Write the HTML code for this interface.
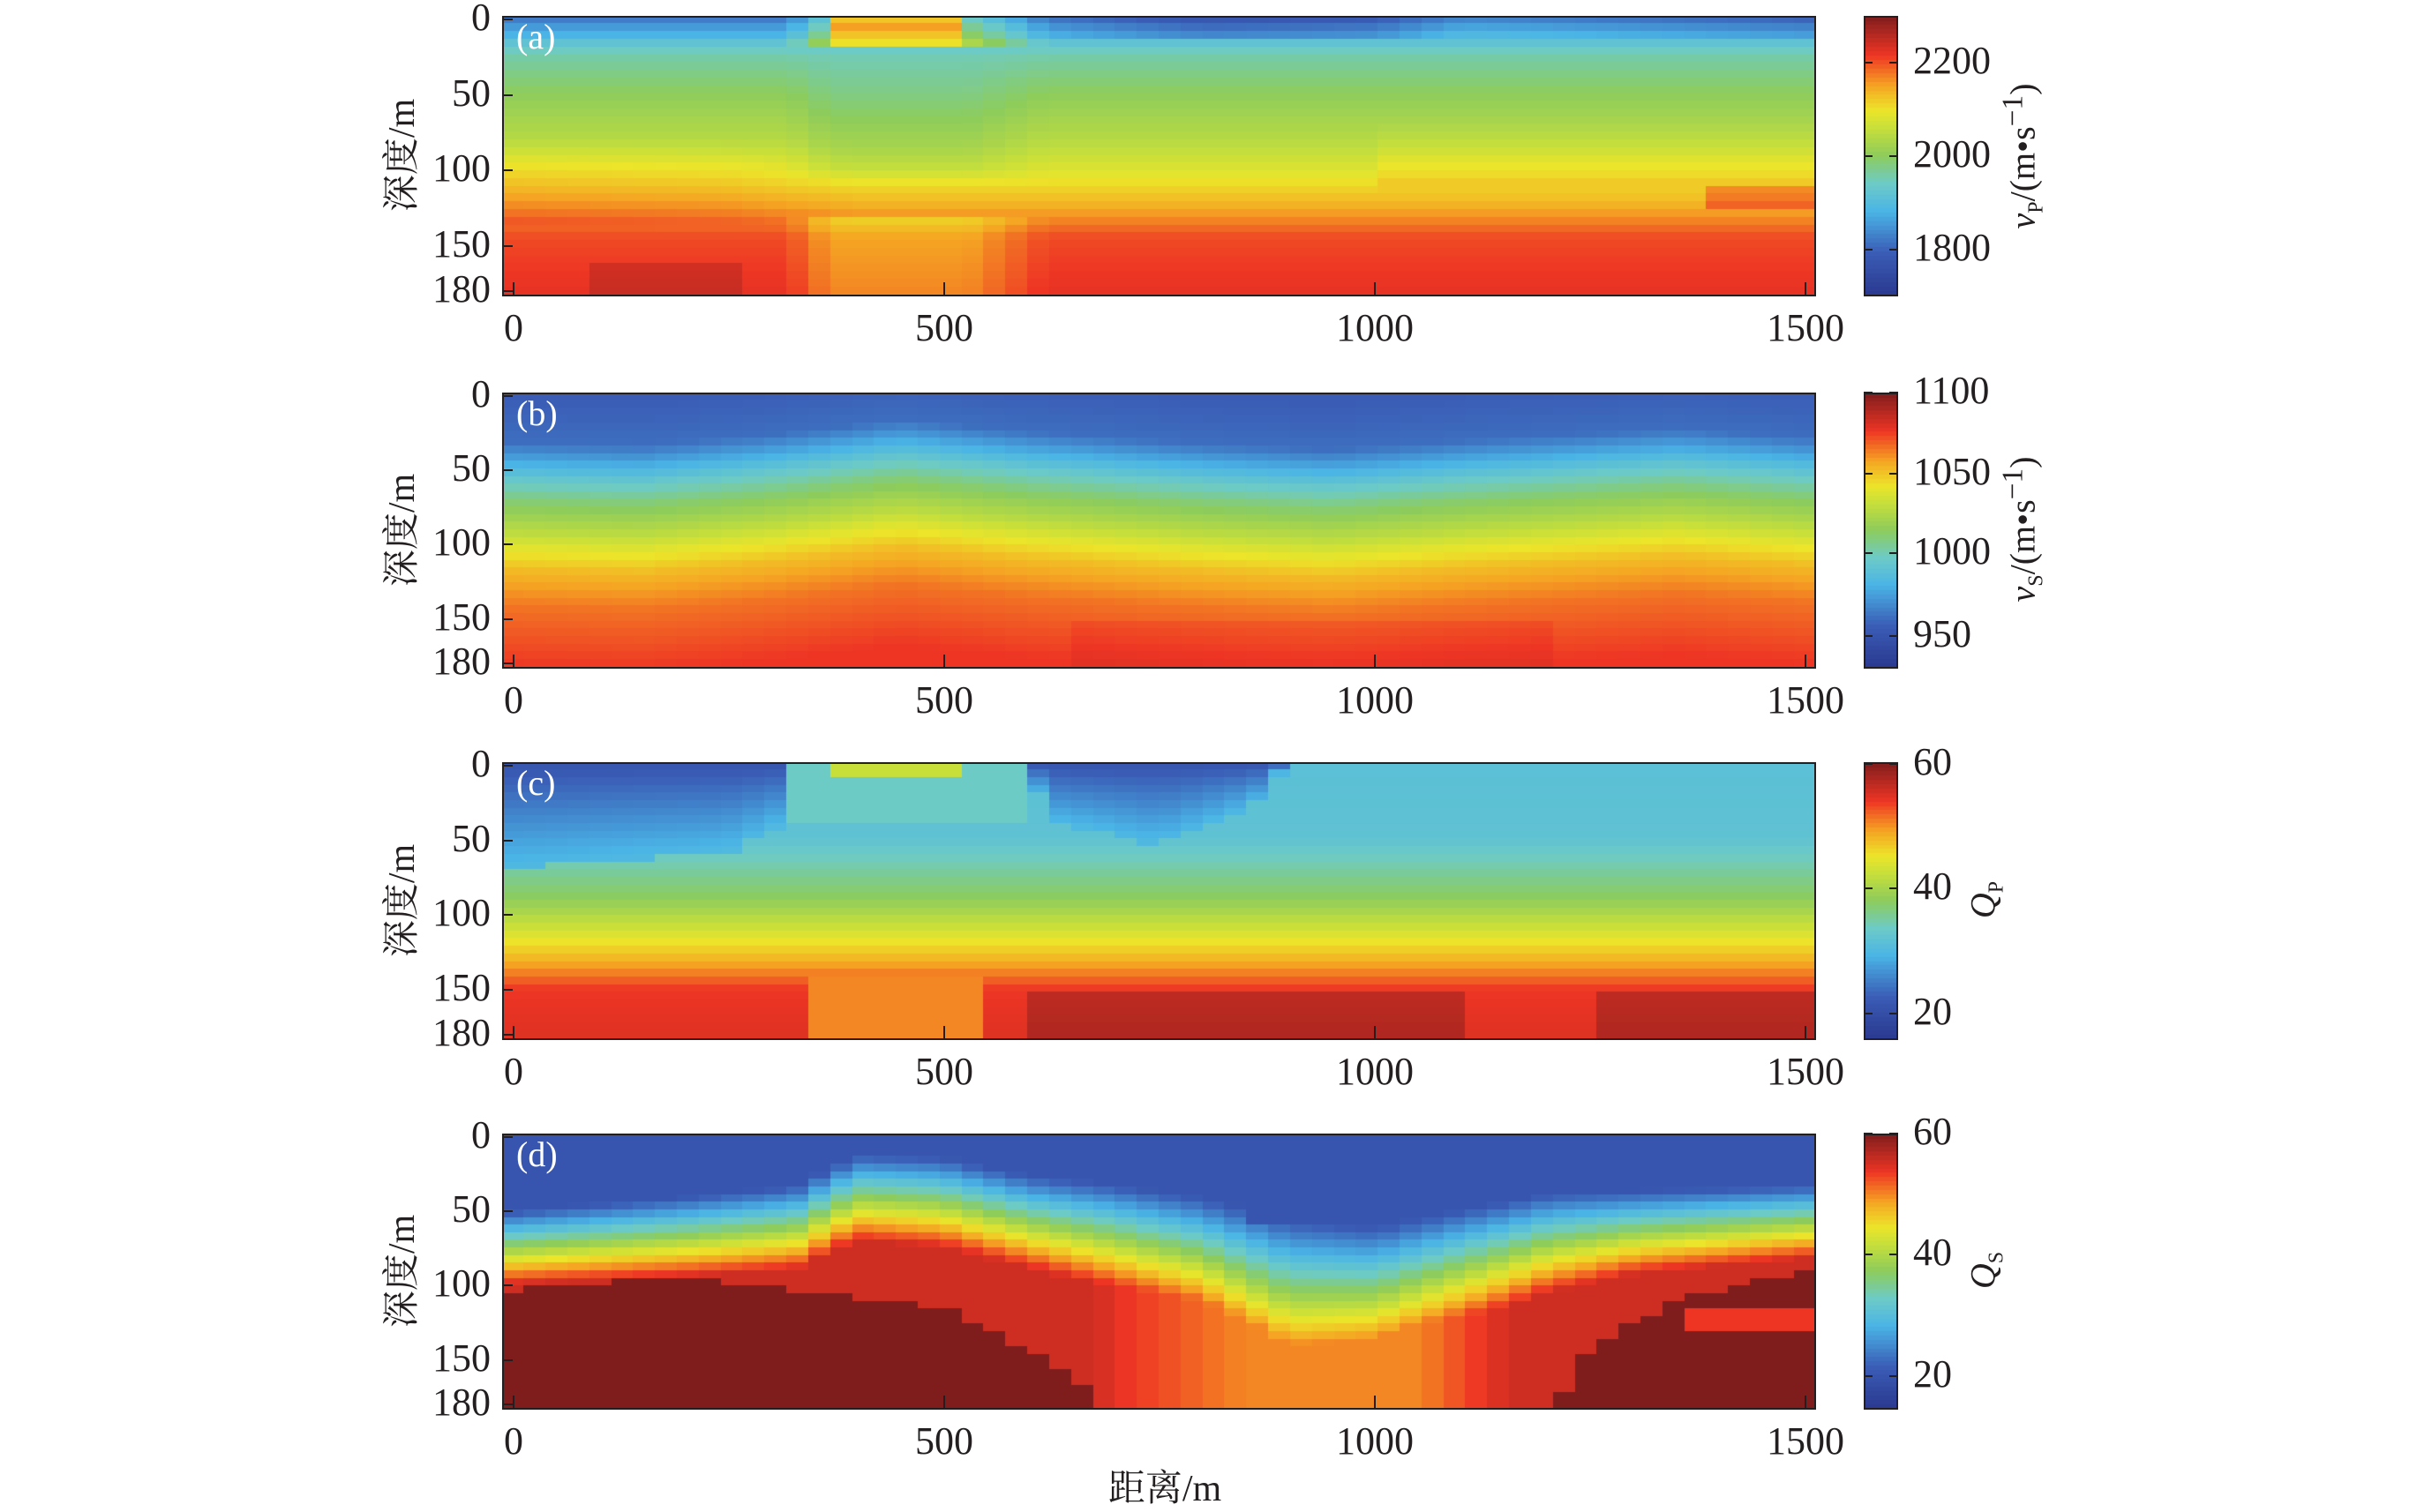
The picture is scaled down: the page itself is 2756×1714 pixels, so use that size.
<!DOCTYPE html>
<html><head><meta charset="utf-8">
<style>
body{margin:0;background:#fff;width:2756px;height:1705px;position:relative;overflow:hidden;font-family:"Liberation Serif","Noto Serif CJK SC",serif;color:#231f20}
canvas{position:absolute}
.ax{position:absolute;border:2px solid #231f20;box-sizing:border-box}
.t{position:absolute;font-size:44px;line-height:1;white-space:nowrap}
.yl{position:absolute;font-size:42px;white-space:nowrap;transform:translate(-50%,-50%) rotate(-90deg)}
.pl{position:absolute;color:#fff;font-size:40px}
</style></head><body>
<div id="root"></div>
<div style="position:absolute;left:1320px;top:1684px;transform:translate(-50%,-50%);font-size:42px;white-space:nowrap">距离/m</div>
<script>
const root=document.getElementById('root');
const X0=569,X1=2058,CB0=2112,CB1=2151;
const panels=[{top:18,bot:334},{top:445,bot:756},{top:864,bot:1177},{top:1285,bot:1596}];
const cmap=[[0,[43,57,144]],[0.15,[58,92,181]],[0.3,[74,180,230]],[0.4,[109,203,198]],[0.5,[141,204,92]],[0.6,[200,223,58]],[0.66,[236,229,42]],[0.75,[245,166,35]],[0.86,[238,53,36]],[1,[127,29,29]]];
function col(t){t=Math.max(0,Math.min(1,t));for(let i=1;i<cmap.length;i++){if(t<=cmap[i][0]){const a=cmap[i-1],b=cmap[i],f=(t-a[0])/(b[0]-a[0]);return `rgb(${a[1].map((v,k)=>Math.round(v+(b[1][k]-v)*f)).join(',')})`;}}return 'rgb(127,29,29)';}
function ip(n,v){if(v<=n[0][0])return n[0][1];for(let i=1;i<n.length;i++){if(v<=n[i][0]){const f=(v-n[i-1][0])/(n[i][0]-n[i-1][0]);return n[i-1][1]+(n[i][1]-n[i-1][1])*f;}}return n[n.length-1][1];}
const fa=(x,z)=>{let t=ip([[0,0.2],[10,0.3],[25,0.42],[50,0.5],[85,0.58],[105,0.65],[125,0.74],[145,0.84],[180,0.87]],z);
 if(z<15)t-=ip([[0,0.02],[600,0.02],[800,0.1],[1000,0.08],[1100,0],[1500,0.06]],x);
 t+=ip([[0,0.04],[250,0.03],[400,0],[1500,0]],x)*ip([[80,0],[100,1],[135,1],[140,0]],z);
 if(x>80&&x<260&&z>160)t+=0.04;
 if(x>1000)t+=0.03*ip([[70,0],[95,1],[110,1],[115,0]],z);
 const c=ip([[320,0],[370,1],[530,1],[620,0]],x);
 if(c>0){let d=z<20?(x>370&&x<530?ip([[0,0.5],[8,0.5],[18,0.3]],z):0.2):(z<110?-0.04*ip([[20,0],[50,1],[100,1],[110,0]],z):(z<130?0:-0.09));t+=c*d;}
 if(x>1380&&z>110&&z<128)t+=0.08;return t;};
const fb=(x,z)=>{const off=ip([[0,3],[150,5],[300,-2],[450,-12],[600,-4],[800,4],[950,8],[1100,2],[1350,-6],[1500,0]],x);
 return ip([[0,0.15],[30,0.18],[45,0.3],[55,0.38],[70,0.48],[90,0.58],[100,0.64],[115,0.72],[140,0.8],[180,0.86]],z-off)+(x>650&&x<1200&&z>150?0.015:0);};
const fc=(x,z)=>{let t=ip([[0,0.35],[50,0.36],[90,0.5],[115,0.64],[135,0.76],[150,0.86],[180,0.88]],z);
 let bl=ip([[0,70],[250,60],[320,40],[340,0],[600,0],[620,40],[750,55],[860,30],[900,0]],x);
 if(z<bl)t=Math.min(t,0.12+0.2*z/Math.max(bl,1));
 if(x>330&&x<600&&z<40)t=Math.max(t,x>380&&x<520&&z<10?0.6:0.4);
 if(x>340&&x<560&&z>140)t=0.78;
 if(z>150&&((x>600&&x<1100)||x>1250))t+=0.06;return t;};
const fd=(x,z)=>{const h=ip([[0,75],[200,68],[330,62],[400,42],[500,45],[600,58],[700,68],[800,80],[900,105],[1000,105],[1100,88],[1200,72],[1300,65],[1500,58]],x);
 const w=ip([[0,22],[600,28],[800,35],[900,45],[1100,35],[1300,25],[1500,22]],x);
 let t=0.5+(z-h)/w*0.35;
 if(x>850&&x<1000&&z>25&&z<60)t-=0.1;
 const cap=ip([[0,1],[600,1],[700,0.87],[850,0.78],[1050,0.78],[1200,0.95],[1250,1]],x);
 let dr=ip([[0,105],[200,95],[500,115],[650,160],[700,190],[1200,190],[1250,140],[1350,110],[1500,92]],x);
 if(z>=dr)t=1;else t=Math.min(t,cap,0.9);
 if(x>1350&&z>115&&z<130)t=0.86;
 return Math.max(0.12,t);};
const fs=[fa,fb,fc,fd];
const NC=60,NR=36;
panels.forEach((p,i)=>{
 const W=X1-X0,H=p.bot-p.top;
 const cv=document.createElement('canvas');cv.width=W;cv.height=H;cv.style.left=X0+'px';cv.style.top=p.top+'px';root.appendChild(cv);
 const g=cv.getContext('2d');
 for(let c=0;c<NC;c++)for(let r=0;r<NR;r++){const x=(c+0.5)/NC*1520-10,z=(r+0.5)/NR*182;g.fillStyle=col(fs[i](x,z));g.fillRect(Math.floor(c*W/NC),Math.floor(r*H/NR),Math.ceil(W/NC)+1,Math.ceil(H/NR)+1);}
 const cb=document.createElement('canvas');cb.width=CB1-CB0;cb.height=H;cb.style.left=CB0+'px';cb.style.top=p.top+'px';root.appendChild(cb);
 const gb=cb.getContext('2d');const n=64;for(let k=0;k<n;k++){gb.fillStyle=col((k+0.5)/n);gb.fillRect(0,Math.floor(H-(k+1)*H/n),CB1-CB0,Math.ceil(H/n)+1);}
 let a=document.createElement('div');a.className='ax';a.style.cssText=`left:${X0}px;top:${p.top}px;width:${W}px;height:${H+2}px`;root.appendChild(a);
 a=document.createElement('div');a.className='ax';a.style.cssText=`left:${CB0}px;top:${p.top}px;width:${CB1-CB0}px;height:${H+2}px`;root.appendChild(a);
 [0,50,100,150,180].forEach(v=>{const y=p.top+4+v/180*(H-8);const d=document.createElement('div');d.className='t';d.textContent=v;d.style.cssText=`right:${2756-556}px;top:${y-24}px`;root.appendChild(d);
  const tk=document.createElement('div');tk.style.cssText=`position:absolute;left:${X0}px;top:${y-1}px;width:12px;height:2px;background:#231f20`;root.appendChild(tk);});
 [0,500,1000,1500].forEach(v=>{const x=582+v*0.976;const d=document.createElement('div');d.className='t';d.textContent=v;d.style.cssText=`left:${x}px;top:${p.bot+16}px;transform:translateX(-50%)`;root.appendChild(d);
  const tk=document.createElement('div');tk.style.cssText=`position:absolute;left:${x-1}px;top:${p.bot-14}px;width:2px;height:14px;background:#231f20`;root.appendChild(tk);});
 const yl=document.createElement('div');yl.className='yl';yl.textContent='深度/m';yl.style.left='452px';yl.style.top=((p.top+p.bot)/2)+'px';root.appendChild(yl);
 const pl=document.createElement('div');pl.className='pl';pl.textContent='('+'abcd'[i]+')';pl.style.left='585px';pl.style.top=(p.top+0)+'px';root.appendChild(pl);
});
const cbt=[[[2200,71],[2000,177],[1800,283]],[[1100,445],[1050,537],[1000,627],[950,721]],[[60,866],[40,1007],[20,1149]],[[60,1285],[40,1422],[20,1560]]];
cbt.forEach(l=>l.forEach(([v,y])=>{const d=document.createElement('div');d.className='t';d.textContent=v;d.style.cssText=`left:2168px;top:${y-24}px`;root.appendChild(d);
 [CB0,CB1-10].forEach(x=>{const tk=document.createElement('div');tk.style.cssText=`position:absolute;left:${x}px;top:${y-1}px;width:10px;height:2px;background:#231f20`;root.appendChild(tk);});}));
const labs=[['v','P','/(m•s<sup>−1</sup>)',2292,177],['v','S','/(m•s<sup>−1</sup>)',2292,600],['Q','P','',2250,1020],['Q','S','',2250,1440]];
labs.forEach(([a,s,r,x,y])=>{const d=document.createElement('div');d.className='yl';d.style.cssText+=`;left:${x}px;top:${y}px;font-size:40px`;d.innerHTML=`<i>${a}</i><sub style="font-size:24px">${s}</sub>${r}`;root.appendChild(d);});
</script>
</body></html>
